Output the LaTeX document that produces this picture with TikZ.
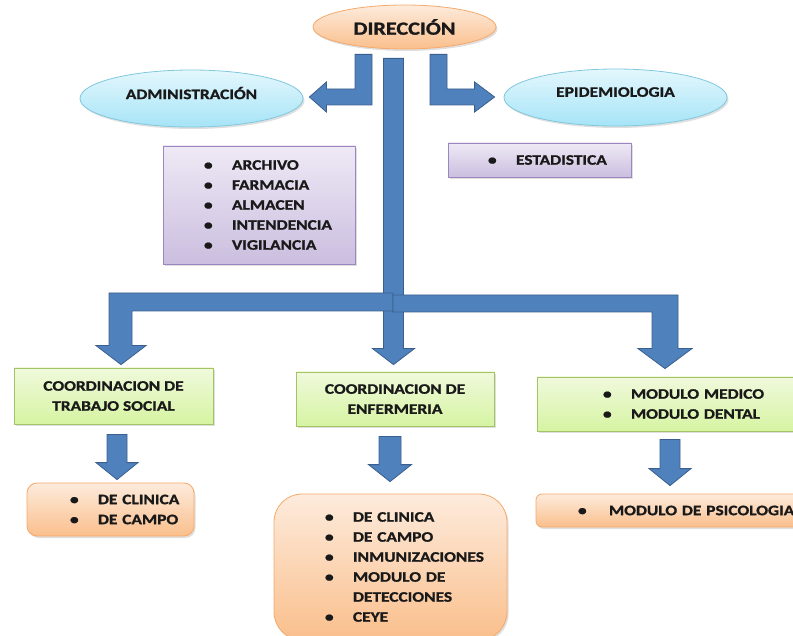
\documentclass[tikz,border=0pt]{standalone}
\usepackage{fontspec}
\setmainfont{Carlito}[FakeStretch=1.2,BoldFeatures={FakeBold=1.2}]
\usetikzlibrary{calc,shapes.geometric,shadows}

\definecolor{blkfill}{HTML}{4F81BD}
\definecolor{blkline}{HTML}{3A5F8E}
\definecolor{orgtop}{HTML}{FDEBDC}
\definecolor{orgbot}{HTML}{FABF8C}
\definecolor{orgline}{HTML}{F5A96B}
\definecolor{cyntop}{HTML}{E4F7FD}
\definecolor{cynbot}{HTML}{A6E4F7}
\definecolor{cynline}{HTML}{7FC8DD}
\definecolor{purtop}{HTML}{EEE9F5}
\definecolor{purbot}{HTML}{CBBEDF}
\definecolor{purline}{HTML}{9C86BF}
\definecolor{grntop}{HTML}{F0F9DC}
\definecolor{grnbot}{HTML}{D6F4A2}
\definecolor{grnline}{HTML}{A3C464}

% item of a list: bullet and text
\newcommand{\itm}[1]{\makebox[28pt][l]{\textbullet}#1}
% straight block arrow pointing down
\newcommand{\blkdown}[5]{%
  \draw[blk] let \p1=(#1), \p2=(#2) in (\x1-#3,\y1) -- (\x1+#3,\y1) -- (\x1+#3,\y2+#5) -- (\x1+#4,\y2+#5)
    -- (\x1,\y2) -- (\x1-#4,\y2+#5) -- (\x1-#3,\y2+#5) -- cycle;}

\begin{document}
\begin{tikzpicture}[x=1pt,y=-1pt,
	every node/.style={font=\bfseries\fontsize{14.5}{20}\selectfont,text=black!90},
	blk/.style={fill=blkfill,draw=blkline,line width=0.8pt,line join=miter},
	shade/.style={drop shadow={shadow xshift=1.5pt,shadow yshift=-2pt,opacity=.25}},
	orangebox/.style={shade,draw=orgline,line width=0.8pt,top color=orgtop,bottom color=orgbot,inner sep=0},
	cyanoval/.style={ellipse,shade,draw=cynline,line width=0.8pt,top color=cyntop,bottom color=cynbot,inner sep=0,text depth=11pt},
	purplebox/.style={shade,draw=purline,line width=0.8pt,top color=purtop,bottom color=purbot,inner sep=0},
	greenbox/.style={shade,draw=grnline,line width=0.8pt,top color=grntop,bottom color=grnbot,inner sep=0},
	listbox/.style={align=left,inner xsep=0}]
	\useasboundingbox (0,0) rectangle (793,636);
	\clip (0,0) rectangle (793,636);

	\node[orangebox,ellipse,minimum width=183,minimum height=44,font=\bfseries\fontsize{18.5}{20}\selectfont] (dir) at (404.5,27) {DIRECCIÓN};

	\node[cyanoval,minimum width=223,minimum height=57] (adm) at (191.5,98.5) {ADMINISTRACIÓN};
	\node[cyanoval,minimum width=223,minimum height=57] (epi) at (615.5,97.5) {EPIDEMIOLOGIA};

	\node[purplebox,listbox,minimum height=118,text width=192pt] (padm) at (259,205)
		{\hspace*{41pt}\itm{ARCHIVO}\\ \hspace*{41pt}\itm{FARMACIA}\\ \hspace*{41pt}\itm{ALMACEN}\\
		 \hspace*{41pt}\itm{INTENDENCIA}\\ \hspace*{41pt}\itm{VIGILANCIA}};
	\node[purplebox,listbox,minimum height=34,text width=183pt] (pepi) at (539.5,160)
		{\hspace*{40pt}\itm{ESTADISTICA}};

	\node[greenbox,align=center,minimum width=199,minimum height=56] (tsoc) at (113.5,396) {COORDINACION DE\\TRABAJO SOCIAL};
	\node[greenbox,align=center,minimum width=198,minimum height=54] (tenf) at (395,399) {COORDINACION DE\\ENFERMERIA};
	\node[greenbox,listbox,minimum height=54,text width=263pt] (tmod) at (668.5,404)
		{\hspace*{66pt}\itm{MODULO MEDICO}\\ \hspace*{66pt}\itm{MODULO DENTAL}};

	\node[orangebox,listbox,rounded corners=10pt,minimum height=53,text width=167pt] (cs1) at (110.5,509.5)
		{\hspace*{43pt}\itm{DE CLINICA}\\ \hspace*{43pt}\itm{DE CAMPO}};
	\node[orangebox,listbox,rounded corners=28pt,minimum height=146,text width=233pt] (ce2) at (390.5,567)
		{\hspace*{51pt}\itm{DE CLINICA}\\ \hspace*{51pt}\itm{DE CAMPO}\\ \hspace*{51pt}\itm{INMUNIZACIONES}\\
		 \hspace*{51pt}\itm{MODULO DE}\\ \hspace*{79pt}DETECCIONES\\ \hspace*{51pt}\itm{CEYE}};
	\node[orangebox,listbox,rounded corners=6pt,minimum height=33,text width=264pt] (cps) at (668,510.5)
		{\hspace*{42pt}\makebox[31pt][l]{\textbullet}MODULO DE PSICOLOGIA};

	% arrows under DIRECCION
	\coordinate (lstart) at ($(dir.south)+(-41,5)$);
	\coordinate (ltip) at ($(adm.east)+(6,-1.5)$);
	\coordinate (rstart) at ($(dir.south)+(34,5)$);
	\coordinate (rtip) at ($(epi.west)+(-9,-0.5)$);
	\coordinate (tstart) at ($(dir.south)+(-11,9)$);
	\coordinate (hub) at (393,302);
	\coordinate (tipL) at ($(tsoc.north)+(7.5,-3)$);
	\coordinate (tipM) at ($(tenf.north)+(-1,-7)$);
	\coordinate (tipR) at ($(tmod.north)+(-3.5,-8)$);

	\draw[blk] let \p1=(lstart), \p2=(ltip) in (\x1-8.5pt,\y1) -- (\x1+8.5pt,\y1) -- (\x1+8.5pt,\y2-8pt) -- (\x2+17pt,\y2-8pt)
		-- (\x2+17pt,\y2-15pt) -- (\p2) -- (\x2+17pt,\y2+15pt) -- (\x2+17pt,\y2+8pt) -- (\x1-8.5pt,\y2+8pt) -- cycle;
	\draw[blk] let \p1=(rstart), \p2=(rtip) in (\x1-8.5pt,\y1) -- (\x1+8.5pt,\y1) -- (\x1+8.5pt,\y2+8pt) -- (\x2-20pt,\y2+8pt)
		-- (\x2-20pt,\y2+15pt) -- (\p2) -- (\x2-20pt,\y2-15pt) -- (\x2-20pt,\y2-8pt) -- (\x1-8.5pt,\y2-8pt) -- cycle;

	\blkdown{tstart}{tipM}{10pt}{21pt}{16pt}
	\draw[blk] let \p1=(hub), \p2=(tipL) in (\x1,\y1+9pt) -- (\x2-12pt,\y1+9pt) -- (\x2-12pt,\y2+19pt) -- (\x2-25pt,\y2+19pt)
		-- (\p2) -- (\x2+25pt,\y2+19pt) -- (\x2+11pt,\y2+19pt) -- (\x2+11pt,\y1-9pt) -- (\x1,\y1-9pt) -- cycle;
	\draw[blk] let \p1=(hub), \p2=(tipR) in (\x1,\y1+7pt) -- (\x2+13pt,\y1+7pt) -- (\x2+13pt,\y2+20pt) -- (\x2+27pt,\y2+20pt)
		-- (\p2) -- (\x2-27pt,\y2+20pt) -- (\x2-13pt,\y2+20pt) -- (\x2-13pt,\y1-10pt) -- (\x1,\y1-10pt) -- cycle;

	% arrows to the lower boxes
	\coordinate (s1) at ($(tsoc.south)+(3.5,10)$);
	\coordinate (e1) at ($(cs1.north)+(6.5,-3)$);
	\coordinate (s2) at ($(tenf.south)+(-5,10)$);
	\coordinate (e2) at ($(ce2.north)+(-0.5,-12)$);
	\coordinate (s3) at ($(tmod.south)+(1.5,8)$);
	\coordinate (e3) at ($(cps.north)+(2,-8)$);
	\blkdown{s1}{e1}{10pt}{21pt}{17pt}
	\blkdown{s2}{e2}{11pt}{21.5pt}{17pt}
	\blkdown{s3}{e3}{10pt}{21pt}{17pt}
\end{tikzpicture}
\end{document}
